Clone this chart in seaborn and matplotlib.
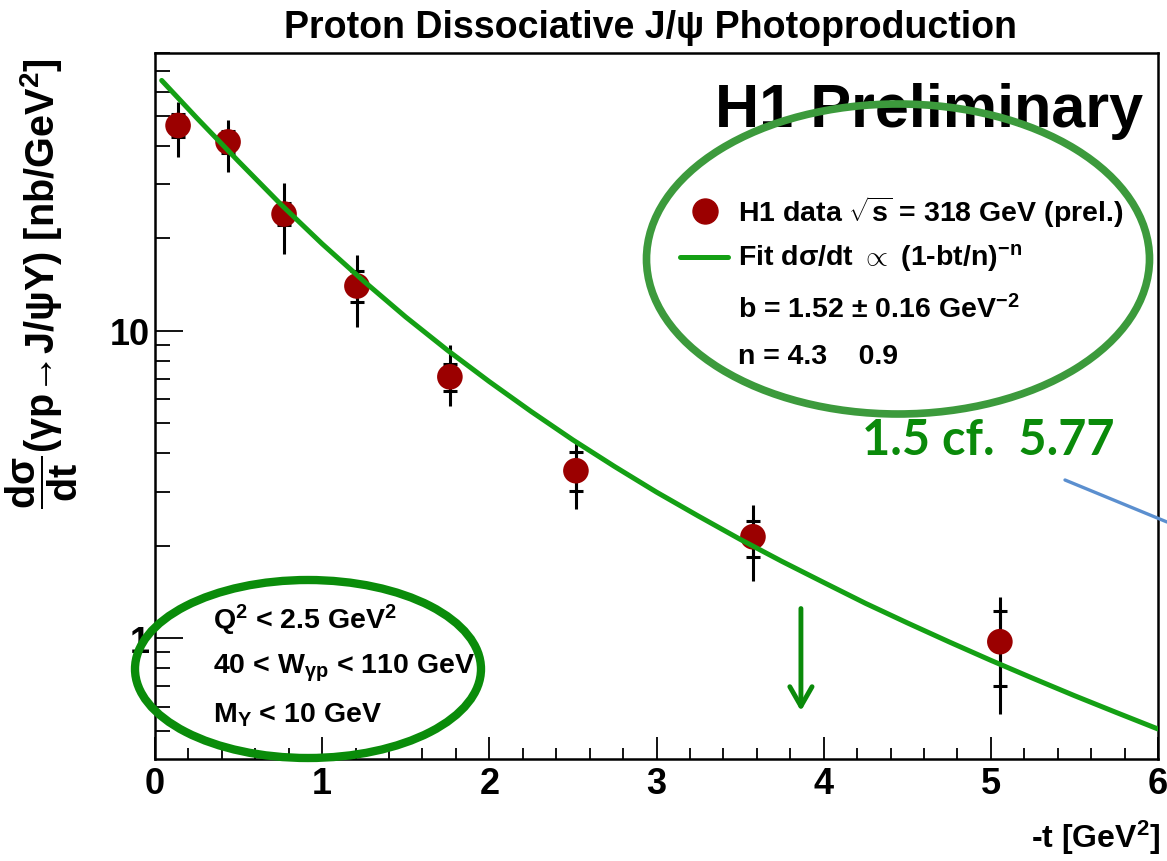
import numpy as np
import pandas as pd
import matplotlib
matplotlib.use('Agg')
import matplotlib.pyplot as plt
from matplotlib.patches import Ellipse
from matplotlib.lines import Line2D
from matplotlib.ticker import FixedLocator, FixedFormatter, LogLocator, NullFormatter, MultipleLocator
import seaborn as sns

# values
t_vals = [0.138, 0.437, 0.772, 1.208, 1.764, 2.518, 3.577, 5.054]
xsec = [46.6, 41.2, 24.0, 14.0, 7.09, 3.51, 2.14, 0.975]
tot_hi = [55.6, 48.5, 30.3, 17.7, 9.0, 4.36, 2.72, 1.36]
tot_lo = [36.8, 32.9, 17.8, 10.3, 5.70, 2.64, 1.54, 0.568]
stat_hi = [50.6, 44.7, 26.1, 15.7, 7.81, 4.04, 2.41, 1.23]
stat_lo = [42.9, 37.9, 22.1, 12.4, 6.38, 3.02, 1.84, 0.70]

# fit curve, read at a set of -t values
fit_t = [0.04, 0.25, 0.5, 0.75, 1.0, 1.25, 1.5, 1.75, 2.0, 2.25, 2.5, 2.75, 3.0,
         3.25, 3.5, 3.75, 4.0, 4.25, 4.5, 4.75, 5.0, 5.25, 5.5, 5.75, 6.0]
fit_xsec = [65.3, 49.3, 35.6, 25.9, 19.2, 14.5, 11.1, 8.65, 6.84, 5.47, 4.42, 3.62, 2.99,
            2.50, 2.10, 1.78, 1.52, 1.30, 1.123, 0.974, 0.848, 0.742, 0.651, 0.574, 0.507]

arrow_t = 3.864

sns.set_style('ticks')
plt.rcParams['font.family'] = ['Liberation Sans', 'DejaVu Sans']
plt.rcParams['font.weight'] = 'bold'
plt.rcParams['text.color'] = 'black'
plt.rcParams['axes.labelcolor'] = 'black'
plt.rcParams['xtick.color'] = 'black'
plt.rcParams['ytick.color'] = 'black'
plt.rcParams['mathtext.fontset'] = 'custom'
plt.rcParams['mathtext.rm'] = 'Liberation Sans:bold'
plt.rcParams['mathtext.it'] = 'Liberation Sans:bold'
plt.rcParams['mathtext.bf'] = 'Liberation Sans:bold'
plt.rcParams['mathtext.sf'] = 'Liberation Sans:bold'

W, H = 1167, 862
def fx(px):
    return px / W
def fy(py):
    return 1 - py / H

fig = plt.figure(figsize=(11.67, 8.62), dpi=100)
ax = fig.add_axes([fx(155), fy(760), (1158 - 155) / W, (760 - 54) / H])

df = pd.DataFrame({'t': t_vals, 'xsec': xsec})
fit = pd.DataFrame({'t': fit_t, 'xsec': fit_xsec})

# total errors
ax.vlines(t_vals, tot_lo, tot_hi, color='black', lw=2.2, zorder=2)
# statistical errors shown as short ticks
yerr = [np.array(xsec) - np.array(stat_lo), np.array(stat_hi) - np.array(xsec)]
ax.errorbar(t_vals, xsec, yerr=yerr, fmt='none', ecolor='black', elinewidth=2.2,
            capsize=5, capthick=2.2, zorder=2)
sns.scatterplot(data=df, x='t', y='xsec', s=340, color='#9b0000', edgecolor='none',
                zorder=3, ax=ax, legend=False)
sns.lineplot(data=fit, x='t', y='xsec', color='#14a014', lw=3.6, zorder=4, ax=ax,
             legend=False)

ax.set_yscale('log')
ax.set_xlim(0, 6)
ax.set_ylim(0.405, 80.2)
ax.set_xlabel('')
ax.set_ylabel('')

ax.yaxis.set_major_locator(FixedLocator([1, 10]))
ax.yaxis.set_major_formatter(FixedFormatter(['1', '10']))
ax.yaxis.set_minor_locator(LogLocator(subs=np.arange(2, 10)))
ax.yaxis.set_minor_formatter(NullFormatter())
ax.xaxis.set_major_locator(MultipleLocator(1))
ax.xaxis.set_minor_locator(MultipleLocator(0.2))
ax.tick_params(axis='y', which='major', direction='in', length=20, width=1.3, pad=4)
ax.tick_params(axis='y', which='minor', direction='in', length=11, width=1.3)
ax.tick_params(axis='x', which='major', direction='in', length=16, width=1.3, pad=5)
ax.tick_params(axis='x', which='minor', direction='in', length=8, width=1.3)
for lab in ax.get_xticklabels() + ax.get_yticklabels():
    lab.set_fontsize(26)
    lab.set_fontweight('bold')
for sp in ax.spines.values():
    sp.set_linewidth(1.8)
    sp.set_color('black')

# axis titles
fig.text(fx(1160), fy(838), r'-t [GeV$^2$]', ha='right', va='center', fontsize=23)
fig.text(fx(42), fy(58), r'$\dfrac{d\sigma}{dt}$(γp→J/ψY) [nb/GeV$^2$]', rotation=90,
         ha='center', va='top', fontsize=28.5)

# title and label
fig.text(fx(651), fy(28), 'Proton Dissociative J/ψ Photoproduction', ha='center',
         va='center', fontsize=27)
fig.text(fx(715), fy(127), 'H1 Preliminary', ha='left', va='baseline', fontsize=44)

# legend drawn by hand, as in the ROOT original
fig.add_artist(Line2D([fx(705)], [fy(212)], marker='o', markersize=18, color='#9b0000', lw=0))
fig.add_artist(Line2D([fx(680), fx(728)], [fy(258), fy(258)], color='#14a014', lw=3.6))
leg_size = 20.5
fig.text(fx(738), fy(212), r'H1 data $\sqrt{s}$ = 318 GeV (prel.)', va='center', fontsize=leg_size)
fig.text(fx(738), fy(258), r'Fit dσ/dt $\propto$ (1-bt/n)$^{-n}$', va='center', fontsize=leg_size)
fig.text(fx(738), fy(310), r'b = 1.52 ± 0.16 GeV$^{-2}$', va='center', fontsize=leg_size)
fig.text(fx(738), fy(357), 'n = 4.3    0.9', va='center', fontsize=leg_size)

# cuts
fig.text(fx(213), fy(620), r'Q$^2$ < 2.5 GeV$^2$', va='center', fontsize=leg_size)
fig.text(fx(213), fy(668), r'40 < W$_{γp}$ < 110 GeV', va='center', fontsize=leg_size)
fig.text(fx(213), fy(715), r'M$_Y$ < 10 GeV', va='center', fontsize=leg_size)

# annotations on top of the plot
fig.add_artist(Ellipse((fx(898), fy(260)), 503 / W, 310 / H, fill=False,
                       edgecolor='#3c9a3c', lw=5.5, zorder=6))
fig.add_artist(Ellipse((fx(308), fy(670)), 346 / W, 178 / H, fill=False,
                       edgecolor='#0a8c0a', lw=6, zorder=6))
fig.text(fx(862), fy(441), '1.5 cf.  5.77', ha='left', va='center', color='#0a8a0a',
         family=['Lato', 'DejaVu Sans'], weight='bold', fontsize=35, zorder=6)
ax.annotate('', xy=(arrow_t, 0.58), xytext=(arrow_t, 1.25),
            arrowprops=dict(arrowstyle='->,head_length=0.7,head_width=0.4',
                            color='#0a8a0a', lw=3.5, mutation_scale=20,
                            shrinkA=0, shrinkB=0), zorder=6)
fig.add_artist(Line2D([fx(1065), 1.0], [fy(481), fy(523)], color='#5b8fcf', lw=2.4, zorder=6))

fig.savefig('out.png', dpi=100)
